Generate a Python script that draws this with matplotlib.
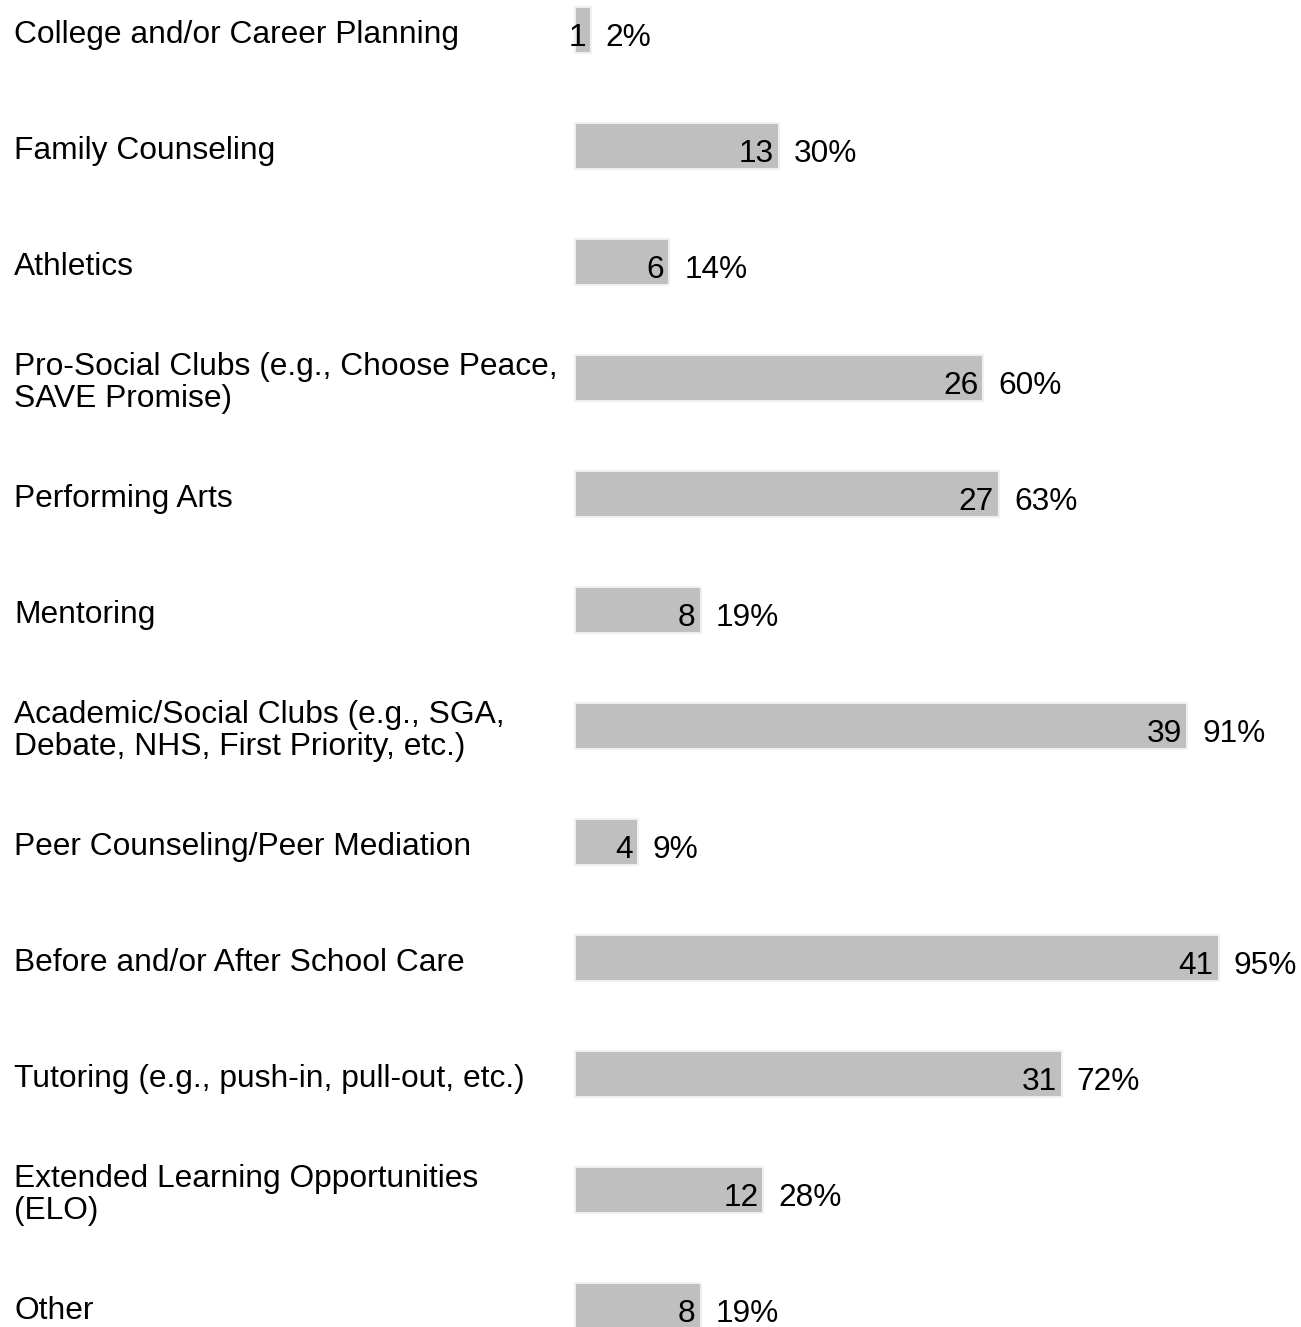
import matplotlib
matplotlib.use("Agg")
import matplotlib.pyplot as plt
import matplotlib.transforms as mtransforms

categories = [
    "College and/or Career Planning",
    "Family Counseling",
    "Athletics",
    "Pro-Social Clubs (e.g., Choose Peace,\nSAVE Promise)",
    "Performing Arts",
    "Mentoring",
    "Academic/Social Clubs (e.g., SGA,\nDebate, NHS, First Priority, etc.)",
    "Peer Counseling/Peer Mediation",
    "Before and/or After School Care",
    "Tutoring (e.g., push-in, pull-out, etc.)",
    "Extended Learning Opportunities\n(ELO)",
    "Other",
]
counts = [1, 13, 6, 26, 27, 8, 39, 4, 41, 31, 12, 8]
percents = ["2%", "30%", "14%", "60%", "63%", "19%", "91%", "9%", "95%", "72%", "28%", "19%"]

plt.rcParams['font.family'] = ['Liberation Sans', 'DejaVu Sans']

W, H = 1301, 1327
fig = plt.figure(figsize=(W / 100, H / 100), dpi=100)
ax = fig.add_axes([0, 0, 1, 1])
ax.axis('off')

ppc = 15.7  # pixels per count
x0 = 575
ax.set_xlim(-x0 / ppc, (W - x0) / ppc)
row = 116.0
c0 = 30.0
ax.set_ylim((H - c0) / row, -c0 / row)

ys = list(range(len(categories)))
ax.barh(ys, counts, height=46 / row, color='#bfbfbf', edgecolor='#f0f0f0', linewidth=1.5)

trans = mtransforms.blended_transform_factory(fig.transFigure, ax.transData)
off = 8 / row
for y, lab, c, p in zip(ys, categories, counts, percents):
    ax.text(14 / W, y + 5 / row, lab, transform=trans, ha='left', va='center',
            fontsize=22.9, color='black', linespacing=1.05)
    ax.text(c - 5 / ppc, y + off, str(c), ha='right', va='center', fontsize=22.8, color='black')
    ax.text(c + 15 / ppc, y + off, p, ha='left', va='center', fontsize=22.8, color='black')

fig.savefig("out.png", dpi=100)
